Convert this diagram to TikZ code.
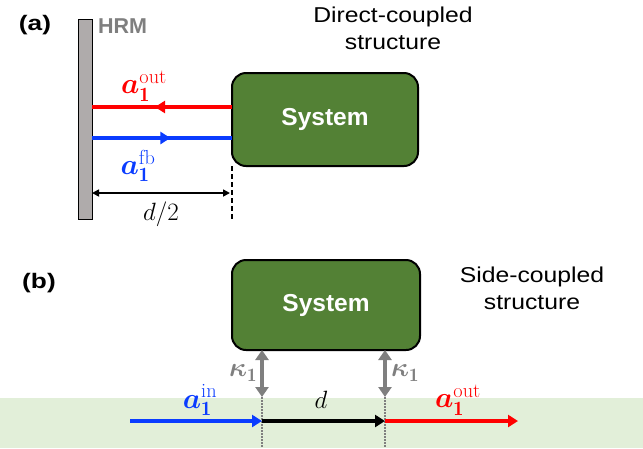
\RequirePackage{fix-cm}
\documentclass[tikz,border=0pt]{standalone}
\usepackage{fontspec}
\usepackage{amsmath,bm}
\setsansfont{Liberation Sans}
\newfontfamily\titlefont[FakeStretch=1.15]{Liberation Sans}
\newfontfamily\panelfont[FakeStretch=1.25]{Liberation Sans Bold}
\usetikzlibrary{arrows.meta,decorations.markings,calc}
\definecolor{sysgreen}{HTML}{538135}
\definecolor{bandgreen}{HTML}{E2EFD9}
\definecolor{hrmgray}{HTML}{AFABAB}
\definecolor{txtgray}{HTML}{7F7F7F}
\definecolor{myblue}{RGB}{10,60,255}
\definecolor{myred}{RGB}{255,0,0}
\tikzset{
  panel/.style={font=\panelfont\fontsize{21}{24}\selectfont, inner sep=0},
  titletext/.style={font=\titlefont\fontsize{21.5}{27}\selectfont, align=center, inner sep=0},
  sysbox/.style={draw=black, line width=2, fill=sysgreen, rounded corners=14,
     text=white, font=\sffamily\bfseries\fontsize{24.5}{28}\selectfont},
  mathlbl/.style={font=\fontsize{29}{32}\selectfont, inner sep=0},
  dlbl/.style={font=\fontsize{25}{28}\selectfont, inner sep=0},
  kaplbl/.style={font=\fontsize{27}{30}\selectfont, inner sep=0, text=txtgray},
  beam/.style={line width=4.5},
  midarrow/.style={postaction={decorate}, decoration={markings,
     mark=at position #1 with {\arrow{Triangle[length=10pt,width=12pt]}}}},
  guide/.style={line width=4, -{Triangle[length=10pt,width=12pt]}},
  dimarrow/.style={line width=1.6, {Triangle[length=7pt,width=7pt]}-{Triangle[length=7pt,width=7pt]}},
  kaparrow/.style={txtgray, line width=4.5, {Triangle[length=10pt,width=13pt]}-{Triangle[length=10pt,width=13pt]}},
  dotline/.style={txtgray, line width=1.5, dash pattern=on 1.5pt off 1.5pt},
  dashline/.style={line width=1.6, dash pattern=on 5pt off 3pt}
}
\begin{document}
\begin{tikzpicture}[x=1pt,y=-1pt]
\useasboundingbox (0,0) rectangle (643,448);
\fill[bandgreen] (0,398) rectangle (643,448);

% ---------- (a) ----------
\node[panel] (la) at (35,25) {(a)};
\node[draw, fill=hrmgray, line width=0.8, minimum width=14, minimum height=200,
      inner sep=0, outer sep=0, anchor=north west] (hrm) at (78,19) {};
\node[font=\sffamily\bfseries\fontsize{21.5}{24}\selectfont, inner sep=0, text=txtgray, anchor=west] (hrmt) at (98,26) {HRM};
\node[titletext] (ta) at (393,28) {Direct-coupled\\structure};
\node[sysbox, minimum width=186, minimum height=93, outer sep=0] (sysa) at (325,119.5) {System};

\coordinate (ra) at (232,107);
\coordinate (ba) at (232,138);
\draw[myred, beam, midarrow=0.55] (ra) -- (ra -| hrm.east);
\draw[myblue, beam, midarrow=0.56] (ba -| hrm.east) -- (ba);
\node[mathlbl, text=myred] (aouta) at (144,86) {$\bm{a}_{\mathbf{1}}^{\mathrm{out}}$};
\node[mathlbl, text=myblue] (afb) at (138,166) {$\bm{a}_{\mathbf{1}}^{\mathrm{fb}}$};

\coordinate (da) at (230,193);
\draw[dimarrow] (da -| hrm.east) -- (da);
\coordinate (dashend) at (232,220);
\draw[dashline] (sysa.south west) -- (dashend);
\node[dlbl] (dhalf) at (161,214) {$d/2$};

% ---------- (b) ----------
\node[panel] (lb) at (39,283) {(b)};
\node[titletext] (tb) at (532,288) {Side-coupled\\structure};
\node[sysbox, minimum width=188, minimum height=90, outer sep=0] (sysb) at (326,305) {System};

\coordinate (k1) at (262,397);
\coordinate (k2) at (385,397);
\coordinate (q1) at (262,448);
\coordinate (q2) at (385,448);
\draw[dotline] (k1) -- (q1);
\draw[dotline] (k2) -- (q2);
\draw[kaparrow] (k1 |- sysb.south) -- (k1);
\draw[kaparrow] (k2 |- sysb.south) -- (k2);
\node[kaplbl] (ka1) at (243,373) {$\bm{\kappa}_{\mathbf{1}}$};
\node[kaplbl] (ka2) at (405,373) {$\bm{\kappa}_{\mathbf{1}}$};

\coordinate (p0) at (130,421);
\coordinate (p1) at (262,421);
\coordinate (p2) at (385,421);
\coordinate (p3) at (518,421);
\draw[guide, myblue] (p0) -- (p1);
\draw[guide, black] (p1) -- (p2);
\draw[guide, myred] (p2) -- (p3);
\node[mathlbl, text=myblue] (ain) at (200,400) {$\bm{a}_{\mathbf{1}}^{\mathrm{in}}$};
\node[dlbl] (dlbl) at (321,400) {$d$};
\node[mathlbl, text=myred] (aoutb) at (458,400) {$\bm{a}_{\mathbf{1}}^{\mathrm{out}}$};
\end{tikzpicture}
\end{document}
